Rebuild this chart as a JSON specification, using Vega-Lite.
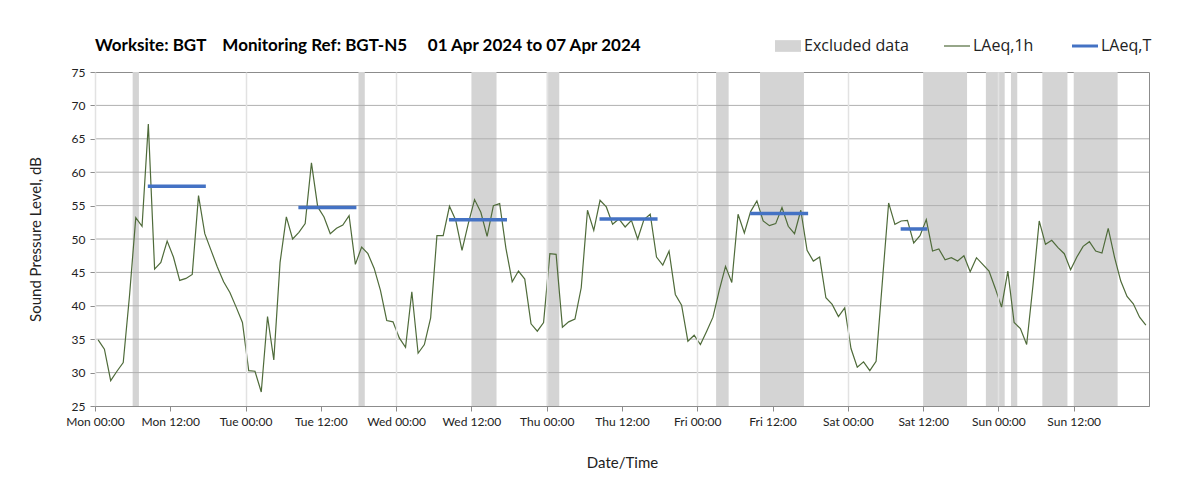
{
  "$schema": "https://vega.github.io/schema/vega-lite/v6.json",
  "width": 1054,
  "height": 334,
  "autosize": {"type": "none"},
  "padding": {"left": 95, "top": 72, "right": 54, "bottom": 92},
  "background": "white",
  "title": {
    "text": "Worksite: BGT\u00a0\u00a0\u00a0 Monitoring Ref: BGT-N5\u00a0\u00a0\u00a0\u00a0 01 Apr 2024 to 07 Apr 2024",
    "anchor": "start",
    "frame": "group",
    "font": "Lato",
    "fontSize": 17,
    "fontWeight": "bold",
    "color": "#000000",
    "offset": -17
  },
  "config": {
    "view": {"stroke": "#8c8c8c", "strokeWidth": 1},
    "font": "Lato"
  },
  "datasets": {
    "hourly": [
      {"t": "2024-04-01T00:30", "v": 34.9}, {"t": "2024-04-01T01:30", "v": 33.5}, {"t": "2024-04-01T02:30", "v": 28.8}, {"t": "2024-04-01T03:30", "v": 30.2},
      {"t": "2024-04-01T04:30", "v": 31.5}, {"t": "2024-04-01T05:30", "v": 41.5}, {"t": "2024-04-01T06:30", "v": 53.2}, {"t": "2024-04-01T07:30", "v": 51.9},
      {"t": "2024-04-01T08:30", "v": 67.2}, {"t": "2024-04-01T09:30", "v": 45.5}, {"t": "2024-04-01T10:30", "v": 46.5}, {"t": "2024-04-01T11:30", "v": 49.7},
      {"t": "2024-04-01T12:30", "v": 47.3}, {"t": "2024-04-01T13:30", "v": 43.8}, {"t": "2024-04-01T14:30", "v": 44.1}, {"t": "2024-04-01T15:30", "v": 44.7},
      {"t": "2024-04-01T16:30", "v": 56.5}, {"t": "2024-04-01T17:30", "v": 50.8}, {"t": "2024-04-01T18:30", "v": 48.3}, {"t": "2024-04-01T19:30", "v": 45.8},
      {"t": "2024-04-01T20:30", "v": 43.6}, {"t": "2024-04-01T21:30", "v": 42.0}, {"t": "2024-04-01T22:30", "v": 39.8}, {"t": "2024-04-01T23:30", "v": 37.5},
      {"t": "2024-04-02T00:30", "v": 30.3}, {"t": "2024-04-02T01:30", "v": 30.2}, {"t": "2024-04-02T02:30", "v": 27.1}, {"t": "2024-04-02T03:30", "v": 38.4},
      {"t": "2024-04-02T04:30", "v": 31.9}, {"t": "2024-04-02T05:30", "v": 46.5}, {"t": "2024-04-02T06:30", "v": 53.3}, {"t": "2024-04-02T07:30", "v": 50.0},
      {"t": "2024-04-02T08:30", "v": 51.0}, {"t": "2024-04-02T09:30", "v": 52.3}, {"t": "2024-04-02T10:30", "v": 61.4}, {"t": "2024-04-02T11:30", "v": 54.8},
      {"t": "2024-04-02T12:30", "v": 53.3}, {"t": "2024-04-02T13:30", "v": 50.8}, {"t": "2024-04-02T14:30", "v": 51.6}, {"t": "2024-04-02T15:30", "v": 52.1},
      {"t": "2024-04-02T16:30", "v": 53.5}, {"t": "2024-04-02T17:30", "v": 46.2}, {"t": "2024-04-02T18:30", "v": 48.8}, {"t": "2024-04-02T19:30", "v": 47.8},
      {"t": "2024-04-02T20:30", "v": 45.6}, {"t": "2024-04-02T21:30", "v": 42.3}, {"t": "2024-04-02T22:30", "v": 37.8}, {"t": "2024-04-02T23:30", "v": 37.6},
      {"t": "2024-04-03T00:30", "v": 35.2}, {"t": "2024-04-03T01:30", "v": 33.8}, {"t": "2024-04-03T02:30", "v": 42.1}, {"t": "2024-04-03T03:30", "v": 32.9},
      {"t": "2024-04-03T04:30", "v": 34.2}, {"t": "2024-04-03T05:30", "v": 38.2}, {"t": "2024-04-03T06:30", "v": 50.5}, {"t": "2024-04-03T07:30", "v": 50.5},
      {"t": "2024-04-03T08:30", "v": 54.9}, {"t": "2024-04-03T09:30", "v": 52.8}, {"t": "2024-04-03T10:30", "v": 48.3}, {"t": "2024-04-03T11:30", "v": 52.3},
      {"t": "2024-04-03T12:30", "v": 55.9}, {"t": "2024-04-03T13:30", "v": 54.0}, {"t": "2024-04-03T14:30", "v": 50.4}, {"t": "2024-04-03T15:30", "v": 55.0},
      {"t": "2024-04-03T16:30", "v": 55.3}, {"t": "2024-04-03T17:30", "v": 48.6}, {"t": "2024-04-03T18:30", "v": 43.6}, {"t": "2024-04-03T19:30", "v": 45.2},
      {"t": "2024-04-03T20:30", "v": 44.0}, {"t": "2024-04-03T21:30", "v": 37.3}, {"t": "2024-04-03T22:30", "v": 36.2}, {"t": "2024-04-03T23:30", "v": 37.5},
      {"t": "2024-04-04T00:30", "v": 47.8}, {"t": "2024-04-04T01:30", "v": 47.7}, {"t": "2024-04-04T02:30", "v": 36.8}, {"t": "2024-04-04T03:30", "v": 37.6},
      {"t": "2024-04-04T04:30", "v": 38.0}, {"t": "2024-04-04T05:30", "v": 42.7}, {"t": "2024-04-04T06:30", "v": 54.3}, {"t": "2024-04-04T07:30", "v": 51.3},
      {"t": "2024-04-04T08:30", "v": 55.8}, {"t": "2024-04-04T09:30", "v": 54.8}, {"t": "2024-04-04T10:30", "v": 52.2}, {"t": "2024-04-04T11:30", "v": 53.0},
      {"t": "2024-04-04T12:30", "v": 51.8}, {"t": "2024-04-04T13:30", "v": 52.8}, {"t": "2024-04-04T14:30", "v": 50.0}, {"t": "2024-04-04T15:30", "v": 52.9},
      {"t": "2024-04-04T16:30", "v": 53.7}, {"t": "2024-04-04T17:30", "v": 47.3}, {"t": "2024-04-04T18:30", "v": 46.1}, {"t": "2024-04-04T19:30", "v": 48.2},
      {"t": "2024-04-04T20:30", "v": 41.7}, {"t": "2024-04-04T21:30", "v": 40.1}, {"t": "2024-04-04T22:30", "v": 34.7}, {"t": "2024-04-04T23:30", "v": 35.6},
      {"t": "2024-04-05T00:30", "v": 34.2}, {"t": "2024-04-05T01:30", "v": 36.2}, {"t": "2024-04-05T02:30", "v": 38.3}, {"t": "2024-04-05T03:30", "v": 42.3},
      {"t": "2024-04-05T04:30", "v": 45.9}, {"t": "2024-04-05T05:30", "v": 43.5}, {"t": "2024-04-05T06:30", "v": 53.7}, {"t": "2024-04-05T07:30", "v": 50.9},
      {"t": "2024-04-05T08:30", "v": 54.1}, {"t": "2024-04-05T09:30", "v": 55.7}, {"t": "2024-04-05T10:30", "v": 52.7}, {"t": "2024-04-05T11:30", "v": 52.0},
      {"t": "2024-04-05T12:30", "v": 52.3}, {"t": "2024-04-05T13:30", "v": 54.7}, {"t": "2024-04-05T14:30", "v": 51.9}, {"t": "2024-04-05T15:30", "v": 50.8},
      {"t": "2024-04-05T16:30", "v": 54.3}, {"t": "2024-04-05T17:30", "v": 48.3}, {"t": "2024-04-05T18:30", "v": 46.7}, {"t": "2024-04-05T19:30", "v": 47.3},
      {"t": "2024-04-05T20:30", "v": 41.2}, {"t": "2024-04-05T21:30", "v": 40.2}, {"t": "2024-04-05T22:30", "v": 38.4}, {"t": "2024-04-05T23:30", "v": 39.7},
      {"t": "2024-04-06T00:30", "v": 33.6}, {"t": "2024-04-06T01:30", "v": 30.8}, {"t": "2024-04-06T02:30", "v": 31.6}, {"t": "2024-04-06T03:30", "v": 30.3},
      {"t": "2024-04-06T04:30", "v": 31.7}, {"t": "2024-04-06T05:30", "v": 43.6}, {"t": "2024-04-06T06:30", "v": 55.4}, {"t": "2024-04-06T07:30", "v": 52.2},
      {"t": "2024-04-06T08:30", "v": 52.7}, {"t": "2024-04-06T09:30", "v": 52.8}, {"t": "2024-04-06T10:30", "v": 49.4}, {"t": "2024-04-06T11:30", "v": 50.5},
      {"t": "2024-04-06T12:30", "v": 52.9}, {"t": "2024-04-06T13:30", "v": 48.2}, {"t": "2024-04-06T14:30", "v": 48.5}, {"t": "2024-04-06T15:30", "v": 46.9},
      {"t": "2024-04-06T16:30", "v": 47.2}, {"t": "2024-04-06T17:30", "v": 46.7}, {"t": "2024-04-06T18:30", "v": 47.5}, {"t": "2024-04-06T19:30", "v": 45.1},
      {"t": "2024-04-06T20:30", "v": 47.2}, {"t": "2024-04-06T21:30", "v": 46.2}, {"t": "2024-04-06T22:30", "v": 45.2}, {"t": "2024-04-06T23:30", "v": 42.6},
      {"t": "2024-04-07T00:30", "v": 39.8}, {"t": "2024-04-07T01:30", "v": 45.2}, {"t": "2024-04-07T02:30", "v": 37.5}, {"t": "2024-04-07T03:30", "v": 36.6},
      {"t": "2024-04-07T04:30", "v": 34.2}, {"t": "2024-04-07T05:30", "v": 43.0}, {"t": "2024-04-07T06:30", "v": 52.7}, {"t": "2024-04-07T07:30", "v": 49.2},
      {"t": "2024-04-07T08:30", "v": 49.8}, {"t": "2024-04-07T09:30", "v": 48.7}, {"t": "2024-04-07T10:30", "v": 47.8}, {"t": "2024-04-07T11:30", "v": 45.4},
      {"t": "2024-04-07T12:30", "v": 47.3}, {"t": "2024-04-07T13:30", "v": 48.9}, {"t": "2024-04-07T14:30", "v": 49.6}, {"t": "2024-04-07T15:30", "v": 48.2},
      {"t": "2024-04-07T16:30", "v": 47.9}, {"t": "2024-04-07T17:30", "v": 51.6}, {"t": "2024-04-07T18:30", "v": 47.3}, {"t": "2024-04-07T19:30", "v": 43.7},
      {"t": "2024-04-07T20:30", "v": 41.4}, {"t": "2024-04-07T21:30", "v": 40.3}, {"t": "2024-04-07T22:30", "v": 38.3}, {"t": "2024-04-07T23:30", "v": 37.1}
    ],
    "excluded": [
      {"start": "2024-04-01T06:00", "end": "2024-04-01T07:00"},
      {"start": "2024-04-02T18:00", "end": "2024-04-02T19:00"},
      {"start": "2024-04-03T12:00", "end": "2024-04-03T16:00"},
      {"start": "2024-04-04T00:00", "end": "2024-04-04T02:00"},
      {"start": "2024-04-05T03:00", "end": "2024-04-05T05:00"},
      {"start": "2024-04-05T10:00", "end": "2024-04-05T17:00"},
      {"start": "2024-04-06T12:00", "end": "2024-04-06T19:00"},
      {"start": "2024-04-06T22:00", "end": "2024-04-07T01:00"},
      {"start": "2024-04-07T02:00", "end": "2024-04-07T03:00"},
      {"start": "2024-04-07T07:00", "end": "2024-04-07T11:00"},
      {"start": "2024-04-07T12:00", "end": "2024-04-07T19:00"}
    ],
    "gridlevels": [
      {"level": 30}, {"level": 35}, {"level": 40}, {"level": 45}, {"level": 50},
      {"level": 55}, {"level": 60}, {"level": 65}, {"level": 70}
    ],
    "period": [
      {"start": "2024-04-01T08:25", "end": "2024-04-01T17:40", "v": 57.9},
      {"start": "2024-04-02T08:25", "end": "2024-04-02T17:40", "v": 54.7},
      {"start": "2024-04-03T08:25", "end": "2024-04-03T17:40", "v": 52.9},
      {"start": "2024-04-04T08:25", "end": "2024-04-04T17:40", "v": 53.0},
      {"start": "2024-04-05T08:25", "end": "2024-04-05T17:40", "v": 53.8},
      {"start": "2024-04-06T08:25", "end": "2024-04-06T12:40", "v": 51.5}
    ]
  },
  "layer": [
    {
      "data": {"name": "excluded"},
      "mark": {"type": "rect", "color": "#d4d4d4"},
      "encoding": {
        "x": {
          "field": "start",
          "type": "temporal",
          "scale": {"domain": [{"year": 2024, "month": 4, "date": 1, "hours": 0}, {"year": 2024, "month": 4, "date": 8, "hours": 0}]},
          "axis": {
            "title": "Date/Time",
            "format": "%a %H:%M",
            "values": [
              {"year": 2024, "month": 4, "date": 1, "hours": 0}, {"year": 2024, "month": 4, "date": 1, "hours": 12},
              {"year": 2024, "month": 4, "date": 2, "hours": 0}, {"year": 2024, "month": 4, "date": 2, "hours": 12},
              {"year": 2024, "month": 4, "date": 3, "hours": 0}, {"year": 2024, "month": 4, "date": 3, "hours": 12},
              {"year": 2024, "month": 4, "date": 4, "hours": 0}, {"year": 2024, "month": 4, "date": 4, "hours": 12},
              {"year": 2024, "month": 4, "date": 5, "hours": 0}, {"year": 2024, "month": 4, "date": 5, "hours": 12},
              {"year": 2024, "month": 4, "date": 6, "hours": 0}, {"year": 2024, "month": 4, "date": 6, "hours": 12},
              {"year": 2024, "month": 4, "date": 7, "hours": 0}, {"year": 2024, "month": 4, "date": 7, "hours": 12}
            ],
            "tickCount": 14,
            "grid": true,
            "gridColor": {"condition": {"test": "hours(datum.value) === 0", "value": "#e2e2e2"}, "value": "transparent"},
            "gridWidth": 1.5,
            "zindex": 1,
            "labelOverlap": false,
            "domainColor": "#8c8c8c",
            "tickColor": "#8c8c8c",
            "tickSize": 5,
            "labelFont": "Lato",
            "labelFontSize": 12,
            "labelColor": "#222222",
            "labelPadding": 5,
            "labelFlush": false,
            "titleFont": "Lato",
            "titleFontSize": 15,
            "titleFontWeight": "normal",
            "titleColor": "#222222",
            "titlePadding": 28
          }
        },
        "x2": {"field": "end"},
        "color": {
          "datum": "Excluded data",
          "scale": {"domain": ["Excluded data", "LAeq,1h", "LAeq,T"], "range": ["#d4d4d4", "#4f6b3a", "#4472c4"]},
          "legend": {
            "orient": "none",
            "legendX": 685,
            "legendY": -34,
            "direction": "horizontal",
            "title": null,
            "labelFont": "Open Sans",
            "labelFontSize": 16,
            "labelColor": "#222222",
            "symbolSize": 676,
            "columnPadding": 32,
            "labelOffset": 8,
            "encode": {
              "symbols": {
                "update": {
                  "shape": {"signal": "datum.value === 'Excluded data' ? 'M-1,-0.45H1V0.45H-1Z' : 'M-1,0H1'"},
                  "strokeWidth": {"signal": "datum.value === 'LAeq,T' ? 3 : (datum.value === 'LAeq,1h' ? 1.2 : 0)"},
                  "fill": {"signal": "datum.value === 'Excluded data' ? '#d4d4d4' : 'transparent'"},
                  "stroke": {"signal": "datum.value === 'LAeq,T' ? '#4472c4' : '#4f6b3a'"},
                  "opacity": {"value": 1}
                }
              }
            }
          }
        }
      }
    },
    {
      "data": {"name": "gridlevels"},
      "mark": {"type": "rule", "color": "#b0b0b0", "strokeWidth": 1},
      "encoding": {
        "y": {"field": "level", "type": "quantitative"}
      }
    },
    {
      "data": {"name": "hourly"},
      "mark": {"type": "line", "strokeWidth": 1.2},
      "encoding": {
        "x": {"field": "t", "type": "temporal"},
        "y": {
          "field": "v",
          "type": "quantitative",
          "scale": {"domain": [25, 75], "nice": false, "zero": false},
          "axis": {
            "title": "Sound Pressure Level, dB",
            "values": [25, 30, 35, 40, 45, 50, 55, 60, 65, 70, 75],
            "tickCount": 11,
            "labelOverlap": false,
            "grid": false,
            "domainColor": "#8c8c8c",
            "tickColor": "#8c8c8c",
            "tickSize": 5,
            "labelFont": "Lato",
            "labelFontSize": 12,
            "labelColor": "#222222",
            "labelPadding": 5,
            "titleFont": "Lato",
            "titleFontSize": 15,
            "titleFontWeight": "normal",
            "titleColor": "#222222",
            "titlePadding": 28
          }
        },
        "color": {"datum": "LAeq,1h"}
      }
    },
    {
      "data": {"name": "period"},
      "mark": {"type": "rule", "strokeWidth": 3.5},
      "encoding": {
        "x": {"field": "start", "type": "temporal"},
        "x2": {"field": "end"},
        "y": {"field": "v", "type": "quantitative"},
        "color": {"datum": "LAeq,T"}
      }
    }
  ]
}
